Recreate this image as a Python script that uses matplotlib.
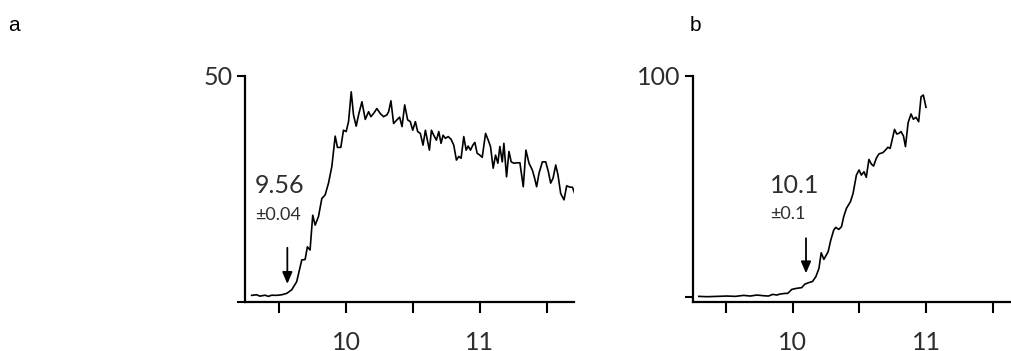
import matplotlib
matplotlib.use("Agg")
import matplotlib.pyplot as plt

# panel a trace
xa = [9.293, 9.330, 9.355, 9.393, 9.418, 9.443, 9.480, 9.518, 9.555, 9.593,
      9.630, 9.668, 9.693, 9.710, 9.730, 9.750, 9.768, 9.793, 9.818, 9.843,
      9.868, 9.893, 9.918, 9.935, 9.960, 9.980, 10.000, 10.018, 10.038, 10.055,
      10.075, 10.093, 10.118, 10.143, 10.168, 10.185, 10.205, 10.230, 10.255, 10.280,
      10.305, 10.318, 10.335, 10.355, 10.380, 10.400, 10.418, 10.438, 10.460, 10.480,
      10.498, 10.518, 10.535, 10.555, 10.575, 10.593, 10.605, 10.623, 10.638, 10.655,
      10.675, 10.693, 10.710, 10.725, 10.743, 10.763, 10.785, 10.805, 10.825, 10.843,
      10.860, 10.880, 10.898, 10.913, 10.930, 10.948, 10.963, 10.980, 11.000, 11.018,
      11.043, 11.063, 11.080, 11.100, 11.118, 11.135, 11.150, 11.168, 11.180, 11.200,
      11.218, 11.235, 11.255, 11.280, 11.300, 11.325, 11.345, 11.368, 11.393, 11.410,
      11.425, 11.443, 11.468, 11.493, 11.513, 11.530, 11.548, 11.568, 11.585, 11.605,
      11.630, 11.650, 11.675, 11.693, 11.710]
ya = [1.47, 1.6, 1.3, 1.5, 1.25, 1.5, 1.47, 1.6, 1.9, 2.7,
      4.5, 9.3, 9.4, 12.2, 11.5, 19.2, 17.0, 18.9, 22.9, 23.7,
      26.3, 30.0, 36.7, 34.2, 34.2, 38.0, 37.7, 39.9, 46.5, 41.4,
      38.9, 41.4, 44.3, 40.4, 42.1, 41.0, 41.7, 42.8, 41.7, 41.0,
      41.4, 42.1, 44.5, 39.5, 40.3, 40.9, 38.8, 43.6, 40.3, 39.9,
      38.0, 39.9, 37.7, 37.3, 34.7, 38.0, 36.2, 33.6, 38.0, 36.9,
      35.8, 37.7, 35.1, 36.9, 36.2, 36.6, 36.0, 34.7, 31.4, 32.2,
      31.8, 36.6, 33.6, 34.5, 33.6, 34.7, 35.3, 32.9, 32.5, 32.0,
      37.3, 35.8, 34.4, 29.6, 32.5, 30.7, 34.4, 31.0, 35.1, 27.7,
      33.3, 31.0, 30.7, 30.8, 30.8, 25.5, 33.6, 30.7, 29.2, 27.4,
      25.5, 28.5, 31.0, 31.0, 28.8, 26.3, 27.4, 30.3, 28.1, 24.0,
      22.6, 25.7, 25.4, 25.4, 24.0]

# panel b trace
xb = [9.296, 9.358, 9.433, 9.507, 9.570, 9.632, 9.682, 9.731, 9.781, 9.818,
      9.851, 9.881, 9.905, 9.943, 9.963, 9.993, 10.030, 10.067, 10.092, 10.117,
      10.149, 10.174, 10.197, 10.214, 10.234, 10.266, 10.286, 10.308, 10.323, 10.346,
      10.366, 10.383, 10.403, 10.433, 10.453, 10.478, 10.498, 10.515, 10.535, 10.552,
      10.572, 10.590, 10.607, 10.627, 10.647, 10.677, 10.697, 10.714, 10.731, 10.746,
      10.764, 10.781, 10.796, 10.813, 10.831, 10.846, 10.866, 10.888, 10.905, 10.925,
      10.945, 10.963, 10.980, 11.000]
yb = [0.15, 0.0, 0.15, 0.3, 0.15, 0.6, 0.3, 0.75, 0.45, 0.3,
      1.06, 0.75, 1.2, 1.5, 1.5, 3.3, 3.8, 4.1, 5.7, 6.3,
      6.9, 9.1, 12.8, 19.9, 16.9, 20.4, 25.7, 30.2, 31.4, 30.5,
      31.7, 36.3, 40.0, 43.0, 46.8, 55.1, 57.4, 55.1, 56.6, 54.1,
      62.2, 60.1, 59.2, 62.7, 64.7, 65.3, 66.5, 67.7, 67.2, 71.0,
      75.8, 73.7, 74.0, 74.8, 72.8, 68.0, 78.9, 82.8, 80.4, 81.3,
      79.3, 90.6, 91.4, 85.8]

onset = [9.56, 10.1]
onset_err = ["\u00b10.04", "\u00b10.1"]

txt = "#2e2e2e"
plt.rcParams['font.family'] = ['Lato', 'DejaVu Sans']

fig = plt.figure(figsize=(10.11, 3.51), dpi=100)
axa = fig.add_axes([0.2423, 0.1396, 0.3255, 0.6439])
axb = fig.add_axes([0.6858, 0.1396, 0.3132, 0.6439])

for ax in (axa, axb):
    for s in ("top", "right"):
        ax.spines[s].set_visible(False)
    for s in ("left", "bottom"):
        ax.spines[s].set_linewidth(1.6)
    ax.set_xticks([9.5, 10, 10.5, 11, 11.5])
    ax.set_xticklabels(["", "10", "", "11", ""])
    ax.tick_params(axis="x", direction="out", length=8, width=1.5, pad=13,
                   labelsize=18, labelcolor=txt)
    ax.tick_params(axis="y", direction="out", length=6, width=1.5, pad=3,
                   labelsize=18, labelcolor=txt)

axa.plot(xa, ya, color="black", lw=1.2)
axa.set_xlim(9.243, 11.705)
axa.set_ylim(0, 50)
axa.set_yticks([0, 50])
axa.set_yticklabels(["", "50"])

axb.plot(xb, yb, color="black", lw=1.2)
axb.set_xlim(9.255, 11.63)
axb.set_ylim(-2.4, 100)
axb.set_yticks([0, 100])
axb.set_yticklabels(["", "100"])

arrow = dict(arrowstyle="-|>,head_width=0.3,head_length=0.7", color="black", lw=1.3,
             shrinkA=0, shrinkB=0)
axa.annotate("", xy=(onset[0], 4), xytext=(onset[0], 12), arrowprops=arrow)
axb.annotate("", xy=(onset[1], 10.6), xytext=(onset[1], 26.5), arrowprops=arrow)

axa.text(9.318, 24.1, f"{onset[0]:.2f}", fontsize=18, color=txt, va="baseline")
axa.text(9.318, 18.1, onset_err[0], fontsize=13, color=txt, va="baseline")
axb.text(9.83, 47.1, f"{onset[1]:.1f}", fontsize=18, color=txt, va="baseline")
axb.text(9.83, 35.2, onset_err[1], fontsize=13, color=txt, va="baseline")

fig.text(8 / 1011, 1 - 31 / 351, "a", fontsize=15, family=["Liberation Sans"], va="baseline")
fig.text(690 / 1011, 1 - 31 / 351, "b", fontsize=15, family=["Liberation Sans"], va="baseline")

fig.savefig("out.png", dpi=100)
